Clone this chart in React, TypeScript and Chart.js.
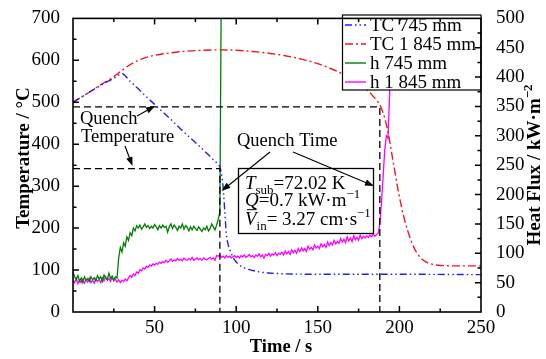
import React, { useEffect, useRef } from "react";
import { Chart, registerables } from "chart.js";

Chart.register(...registerables);

// ---------------- data ----------------
const timeMin = 0;
const timeMax = 250;
const tempMax = 700;
const fluxMax = 500;

const tcTime745 = [0, 5, 10, 15, 20, 25, 30, 35, 40, 45, 50, 55, 60, 65, 70, 75, 80, 85, 88, 90, 91, 92, 93, 94, 95, 97, 99, 102, 105, 110, 115, 120, 130, 150, 200, 250];
const tcTemp745 = [500, 512, 524, 536, 547, 557, 568, 550, 532, 513, 495, 477, 459, 440, 422, 404, 386, 367, 356, 346, 328, 298, 240, 185, 162, 140, 124, 112, 105, 99, 95, 93, 91, 90, 90, 89];

const tcTime1845 = [0, 5, 10, 15, 20, 25, 30, 35, 40, 45, 50, 60, 70, 80, 90, 100, 110, 120, 130, 140, 150, 160, 165, 170, 175, 180, 184, 187, 189, 191, 193, 195, 197, 199, 201, 203, 205, 207, 209, 211, 213, 216, 220, 225, 235, 250];
const tcTemp1845 = [500, 512, 524, 537, 549, 561, 576, 590, 600, 607, 612, 618, 622, 624, 625, 624, 621, 617, 611, 603, 592, 577, 568, 557, 545, 530, 514, 500, 485, 462, 430, 385, 340, 295, 256, 222, 195, 172, 153, 139, 129, 120, 114, 111, 110, 110];

// heat flux, one sample per second starting at t = 0 s
const hFlux745 = [
  68, 60, 55, 62, 52, 58, 50, 60, 54, 57,
  52, 60, 55, 58, 53, 62, 56, 60, 52, 63,
  58, 55, 66, 57, 61, 54, 60, 58, 92, 110,
  102, 118, 112, 128, 122, 135, 130, 143, 138, 147,
  143, 148, 141, 145, 150, 144, 147, 142, 146, 143,
  149, 145, 140, 147, 143, 148, 144, 146, 136, 145,
  150, 142, 148, 144, 139, 146, 143, 150, 141, 147,
  144, 138, 145, 140, 146, 142, 139, 145, 141, 137,
  143, 140, 146, 138, 142, 150, 145, 140, 148, 158,
  170, 620,
];
const hFlux1845 = [
  55, 50, 57, 48, 54, 50, 56, 49, 55, 51,
  58, 50, 54, 49, 57, 52, 55, 50, 58, 53,
  60, 54, 57, 52, 59, 53, 56, 51, 55, 50,
  54, 52, 56, 53, 58, 62, 59, 65, 62, 68,
  66, 72, 70, 75, 73, 78, 76, 80, 78, 82,
  80, 83, 81, 85, 83, 86, 84, 88, 85, 87,
  90, 86, 89, 87, 91, 88, 90, 87, 92, 89,
  88, 91, 89, 93, 88, 90, 92, 89, 91, 88,
  92, 90, 89, 91, 93, 90, 92, 88, 96, 95,
  97, 93, 95, 92, 96, 93, 95, 92, 94, 96,
  93, 95, 92, 96, 94, 97, 93, 95, 98, 94,
  96, 93, 97, 95, 99, 94, 97, 92, 98, 96,
  100, 95, 99, 97, 101, 96, 100, 98, 102, 97,
  104, 99, 103, 98, 106, 101, 105, 100, 108, 103,
  109, 104, 108, 103, 112, 107, 110, 106, 114, 109,
  112, 108, 116, 111, 115, 110, 119, 113, 118, 114,
  122, 116, 120, 117, 125, 119, 124, 118, 128, 121,
  126, 120, 130, 123, 127, 122, 131, 125, 129, 126,
  130, 127, 131, 128, 133, 129, 132, 134, 150, 185,
  230, 275, 300, 296, 370, 620,
];
const fluxSampleStep = 1;

const quenchTempHigh = 489;
const quenchTempLow = 342;
const quenchTime745 = 90;
const quenchTime1845 = 188;

const seriesLabels = ["TC 745 mm", "TC 1 845 mm", "h 745 mm", "h 1 845 mm"];

// ---------------- styles ----------------
const FONT = "'Liberation Serif', 'Times New Roman', serif";
const COLORS = ["#2020f0", "#f01818", "#008000", "#ff00ff"];
const DASHES: number[][] = [[7, 3, 1.5, 3, 1.5, 3], [8, 3, 2, 3], [], []];

type Seg = { t: string; italic?: boolean; bold?: boolean; sub?: boolean; sup?: boolean; bar?: boolean };

function drawRich(ctx: CanvasRenderingContext2D, x: number, y: number, segs: Seg[], size: number, measureOnly = false) {
  let cx = x;
  for (const s of segs) {
    const fs = s.sub || s.sup ? size * 0.68 : size;
    ctx.font = `${s.italic ? "italic " : ""}${s.bold ? "bold " : ""}${fs}px ${FONT}`;
    const dy = s.sub ? size * 0.28 : s.sup ? -size * 0.42 : 0;
    const w = ctx.measureText(s.t).width;
    if (!measureOnly) {
      ctx.fillText(s.t, cx, y + dy);
      if (s.bar) {
        ctx.beginPath();
        ctx.lineWidth = 1;
        ctx.moveTo(cx + 2, y - size * 0.78);
        ctx.lineTo(cx + w, y - size * 0.78);
        ctx.stroke();
      }
    }
    cx += w;
  }
  return cx - x;
}

function arrow(ctx: CanvasRenderingContext2D, x1: number, y1: number, x2: number, y2: number) {
  const a = Math.atan2(y2 - y1, x2 - x1);
  const L = 9, W = 3.2;
  ctx.beginPath();
  ctx.lineWidth = 1.1;
  ctx.moveTo(x1, y1);
  ctx.lineTo(x2 - Math.cos(a) * L * 0.8, y2 - Math.sin(a) * L * 0.8);
  ctx.stroke();
  ctx.beginPath();
  ctx.moveTo(x2, y2);
  ctx.lineTo(x2 - Math.cos(a) * L - Math.sin(a) * W, y2 - Math.sin(a) * L + Math.cos(a) * W);
  ctx.lineTo(x2 - Math.cos(a) * L + Math.sin(a) * W, y2 - Math.sin(a) * L - Math.cos(a) * W);
  ctx.closePath();
  ctx.fill();
}

const overlayPlugin = {
  id: "overlay",
  afterDatasetsDraw(chart: any) {
    const { ctx, chartArea: ca, scales } = chart;
    const sx = scales.x, sT = scales.y, sH = scales.y2;
    ctx.save();
    ctx.fillStyle = "#000";
    ctx.strokeStyle = "#000";

    // quench dashed guide lines
    ctx.lineWidth = 1.3;
    ctx.setLineDash([7, 4]);
    const yHi = sT.getPixelForValue(quenchTempHigh);
    const yLo = sT.getPixelForValue(quenchTempLow);
    const xQ1 = sx.getPixelForValue(quenchTime745);
    const xQ2 = sx.getPixelForValue(quenchTime1845);
    ctx.beginPath();
    ctx.moveTo(ca.left, yHi);
    ctx.lineTo(xQ2, yHi);
    ctx.lineTo(xQ2, ca.bottom);
    ctx.stroke();
    ctx.beginPath();
    ctx.moveTo(ca.left, yLo);
    ctx.lineTo(xQ1, yLo);
    ctx.lineTo(xQ1, ca.bottom);
    ctx.stroke();
    ctx.setLineDash([]);

    // annotation texts
    ctx.textBaseline = "alphabetic";
    ctx.textAlign = "left";
    ctx.font = `18.5px ${FONT}`;
    ctx.fillText("Quench", 80, 123.5);
    ctx.fillText("Temperature", 81, 142);
    ctx.fillText("Quench Time", 237, 146);

    arrow(ctx, 137, 116, 155, 106);
    arrow(ctx, 125, 146, 132.5, 166);

    // parameter box
    ctx.fillStyle = "#fff";
    ctx.fillRect(238.5, 168.5, 135, 65);
    ctx.lineWidth = 1.3;
    ctx.strokeRect(238.5, 168.5, 135, 65);
    ctx.fillStyle = "#000";
    drawRich(ctx, 245, 188.5, [{ t: "T", italic: true }, { t: "sub", sub: true }, { t: "=72.02 K" }], 19);
    drawRich(ctx, 245, 206, [{ t: "Q", italic: true }, { t: "=0.7 kW·m" }, { t: "−1", sup: true }], 19);
    drawRich(ctx, 245, 224.5, [{ t: "V", italic: true, bar: true }, { t: "in", sub: true }, { t: "= 3.27 cm·s" }, { t: "−1", sup: true }], 19);

    arrow(ctx, 270, 152, 221.5, 191);
    arrow(ctx, 293, 152, 374, 186);

    // legend
    const lx = 342, ly = 15, lw = ca.right - 342, lh = 75;
    ctx.fillStyle = "#fff";
    ctx.fillRect(lx, ly, lw, lh);
    ctx.lineWidth = 1.2;
    ctx.strokeRect(lx + 0.5, ly, lw - 0.5, lh);
    ctx.fillStyle = "#000";
    ctx.font = `19px ${FONT}`;
    const rows = [25, 44, 63, 82];
    seriesLabels.forEach((lab, i) => {
      ctx.strokeStyle = COLORS[i];
      ctx.lineWidth = 1.4;
      ctx.setLineDash(DASHES[i]);
      ctx.beginPath();
      ctx.moveTo(345, rows[i]);
      ctx.lineTo(366, rows[i]);
      ctx.stroke();
      ctx.setLineDash([]);
      ctx.fillText(lab, 370, rows[i] + 6);
    });
    ctx.strokeStyle = "#000";

    // frame
    ctx.lineWidth = 1.6;
    ctx.strokeRect(ca.left, ca.top, ca.right - ca.left, ca.bottom - ca.top);

    // inward ticks
    ctx.strokeStyle = "#000";
    ctx.lineWidth = 1.5;
    const major = 6, minor = 3.5;
    ctx.beginPath();
    for (let t = 25; t < timeMax; t += 25) {
      const px = sx.getPixelForValue(t);
      const len = t % 50 === 0 ? major : minor;
      ctx.moveTo(px, ca.bottom);
      ctx.lineTo(px, ca.bottom - len);
      ctx.moveTo(px, ca.top);
      ctx.lineTo(px, ca.top + len);
    }
    for (let v = 50; v < tempMax; v += 50) {
      const py = sT.getPixelForValue(v);
      const len = v % 100 === 0 ? major : minor;
      ctx.moveTo(ca.left, py);
      ctx.lineTo(ca.left + len, py);
    }
    for (let v = 25; v < fluxMax; v += 25) {
      const py = sH.getPixelForValue(v);
      const len = v % 50 === 0 ? major : minor;
      ctx.moveTo(ca.right, py);
      ctx.lineTo(ca.right - len, py);
    }
    ctx.stroke();

    // axis titles
    ctx.font = `bold 18.5px ${FONT}`;
    ctx.textAlign = "center";
    ctx.fillText("Time / s", 281, 351.5);

    ctx.save();
    ctx.translate(28.5, 158);
    ctx.rotate(-Math.PI / 2);
    ctx.textAlign = "left";
    const tSegs: Seg[] = [{ t: "Temperature / °C", bold: true }];
    const tw = drawRich(ctx, 0, 0, tSegs, 19, true);
    drawRich(ctx, -tw / 2, 0, tSegs, 19);
    ctx.restore();

    ctx.save();
    ctx.translate(540, 165);
    ctx.rotate(-Math.PI / 2);
    ctx.textAlign = "left";
    const hSegs: Seg[] = [{ t: "Heat Flux / kW·m", bold: true }, { t: "−2", bold: true, sup: true }];
    const hw = drawRich(ctx, 0, 0, hSegs, 19, true);
    drawRich(ctx, -hw / 2, 0, hSegs, 19);
    ctx.restore();

    ctx.restore();
  },
};

export default function App() {
  const ref = useRef<HTMLCanvasElement | null>(null);
  useEffect(() => {
    if (!ref.current) return;
    const tickFont = { family: FONT, size: 19 };
    const chart = new Chart(ref.current, {
      type: "line",
      data: {
        datasets: [
          {
            label: seriesLabels[0],
            data: tcTime745.map((t, i) => ({ x: t, y: tcTemp745[i] })),
            yAxisID: "y",
            borderColor: COLORS[0],
            borderDash: DASHES[0],
            borderWidth: 1.4,
            pointRadius: 0,
            cubicInterpolationMode: "monotone",
            order: 1,
          },
          {
            label: seriesLabels[1],
            data: tcTime1845.map((t, i) => ({ x: t, y: tcTemp1845[i] })),
            yAxisID: "y",
            borderColor: COLORS[1],
            borderDash: DASHES[1],
            borderWidth: 1.4,
            pointRadius: 0,
            cubicInterpolationMode: "monotone",
            order: 2,
          },
          {
            label: seriesLabels[2],
            data: hFlux745.map((v, i) => ({ x: i * fluxSampleStep, y: v })),
            yAxisID: "y2",
            borderColor: COLORS[2],
            borderWidth: 1.3,
            pointRadius: 0,
            tension: 0,
            order: 3,
          },
          {
            label: seriesLabels[3],
            data: hFlux1845.map((v, i) => ({ x: i * fluxSampleStep, y: v })),
            yAxisID: "y2",
            borderColor: COLORS[3],
            borderWidth: 1.3,
            pointRadius: 0,
            tension: 0,
            order: 4,
          },
        ],
      },
      options: {
        responsive: false,
        animation: false,
        events: [],
        layout: { padding: { top: 15, left: 0, right: 0, bottom: 0 } },
        plugins: { legend: { display: false }, tooltip: { enabled: false } },
        scales: {
          x: {
            type: "linear",
            min: timeMin,
            max: timeMax,
            grid: { display: false },
            border: { display: false },
            ticks: {
              stepSize: 50,
              autoSkip: false,
              maxRotation: 0,
              padding: -3,
              color: "#000",
              font: tickFont,
              callback: (v: any) => (v === 0 ? "" : String(v)),
            },
            afterFit: (s: any) => {
              s.height = 47;
            },
          },
          y: {
            type: "linear",
            position: "left",
            min: 0,
            max: tempMax,
            grid: { display: false },
            border: { display: false },
            ticks: { stepSize: 100, autoSkip: false, padding: 5, color: "#000", font: tickFont },
            afterFit: (s: any) => {
              s.width = 73;
            },
          },
          y2: {
            type: "linear",
            position: "right",
            min: 0,
            max: fluxMax,
            grid: { display: false },
            border: { display: false },
            ticks: { stepSize: 50, autoSkip: false, padding: 7, color: "#000", font: tickFont },
            afterFit: (s: any) => {
              s.width = 65;
            },
          },
        },
      },
      plugins: [overlayPlugin],
    });
    return () => chart.destroy();
  }, []);
  return (
    <div style={{ position: "absolute", left: 0, top: 0, width: 546, height: 359, background: "#fff" }}>
      <canvas ref={ref} width={546} height={359} />
    </div>
  );
}
